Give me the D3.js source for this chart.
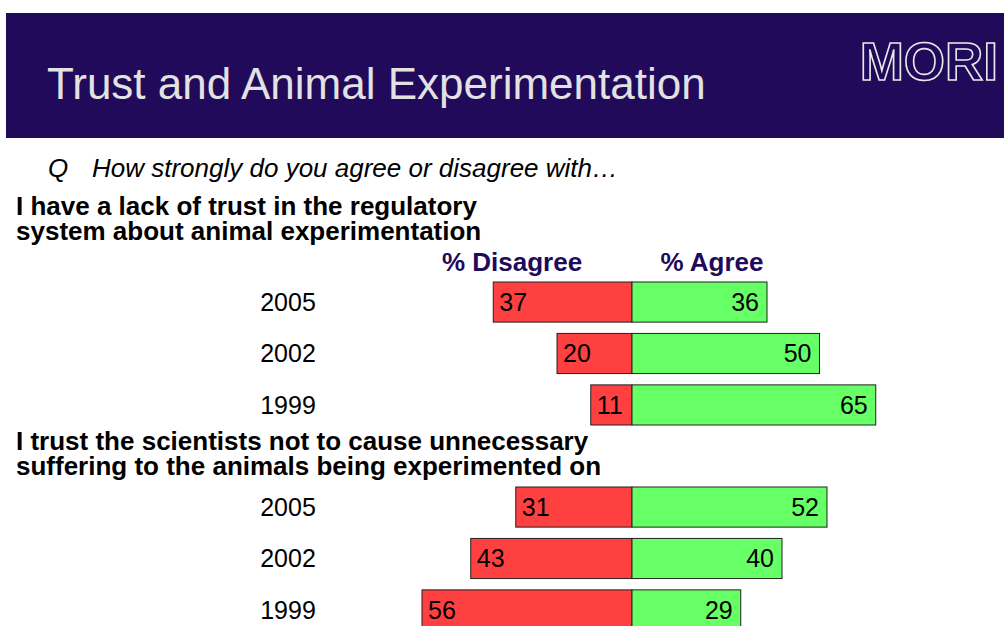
<!DOCTYPE html>
<html>
<head>
<meta charset="utf-8">
<script src="https://cdn.jsdelivr.net/npm/d3@7"></script>
<style>
  body { margin: 0; background: #fff; }
  svg { display: block; font-family: "Liberation Sans", Arial, sans-serif; }
</style>
</head>
<body>
<div id="chart"></div>
<script>
// data
var years = ["2005", "2002", "1999"];
var headings = [
  ["I have a lack of trust in the regulatory", "system about animal experimentation"],
  ["I trust the scientists not to cause unnecessary", "suffering to the animals being experimented on"]
];
var disagreeLack = [37, 20, 11];
var agreeLack = [36, 50, 65];
var disagreeTrust = [31, 43, 56];
var agreeTrust = [52, 40, 29];

var groups = [
  { lines: headings[0], disagree: disagreeLack, agree: agreeLack },
  { lines: headings[1], disagree: disagreeTrust, agree: agreeTrust }
];

var width = 1004, height = 626;
var navy = "#200a59";

var svg = d3.select("#chart").append("svg")
  .attr("width", width)
  .attr("height", height);

// header band
svg.append("rect")
  .attr("x", 6).attr("y", 13)
  .attr("width", width - 6).attr("height", 125)
  .attr("fill", navy);

svg.append("text")
  .attr("x", 47).attr("y", 99)
  .attr("fill", "#e2e2e2")
  .style("font-size", "44px")
  .text("Trust and Animal Experimentation");

// MORI logo, outlined letters
svg.append("text")
  .attr("x", 998).attr("y", 80)
  .attr("text-anchor", "end")
  .attr("fill", navy)
  .attr("stroke", "#e8e8e8")
  .attr("stroke-width", 1.6)
  .style("font-size", "53px")
  .style("font-weight", "bold")
  .text("MORI");

// question
svg.append("text")
  .attr("x", 48).attr("y", 177)
  .style("font-size", "26px").style("font-style", "italic")
  .text("Q");
svg.append("text")
  .attr("x", 92).attr("y", 177)
  .style("font-size", "26px").style("font-style", "italic")
  .text("How strongly do you agree or disagree with\u2026");

// scales
var x = d3.scaleLinear()
  .domain([-60, 70])
  .range([632 - 60 * 3.75, 632 + 70 * 3.75]);

var y = d3.scaleBand()
  .domain(years)
  .range([0, 143])
  .paddingInner(0.22)
  .paddingOuter(0);

// column headers
svg.append("text")
  .attr("x", 512).attr("y", 271)
  .attr("text-anchor", "middle")
  .attr("fill", navy)
  .style("font-size", "26px").style("font-weight", "bold")
  .text("% Disagree");
svg.append("text")
  .attr("x", 712).attr("y", 271)
  .attr("text-anchor", "middle")
  .attr("fill", navy)
  .style("font-size", "26px").style("font-weight", "bold")
  .text("% Agree");

var groupTop = [282, 487];
var headTop = [215, 450];

groups.forEach(function(grp, gi) {
  var g = svg.append("g")
    .attr("transform", "translate(0," + groupTop[gi] + ")");

  svg.append("g").selectAll("text")
    .data(grp.lines)
    .enter().append("text")
    .attr("x", 16)
    .attr("y", function(d, i) { return headTop[gi] + i * 25; })
    .style("font-size", "26px").style("font-weight", "bold")
    .text(function(d) { return d; });

  var rows = years.map(function(yr, i) {
    return { year: yr, dis: grp.disagree[i], agr: grp.agree[i] };
  });

  var row = g.selectAll(".row")
    .data(rows)
    .enter().append("g")
    .attr("class", "row")
    .attr("transform", function(d) { return "translate(0," + y(d.year) + ")"; });

  row.append("rect")
    .attr("x", function(d) { return x(-d.dis); })
    .attr("width", function(d) { return x(0) - x(-d.dis); })
    .attr("height", y.bandwidth())
    .attr("fill", "#ff4040")
    .attr("stroke", "#222").attr("stroke-width", 1);

  row.append("rect")
    .attr("x", x(0))
    .attr("width", function(d) { return x(d.agr) - x(0); })
    .attr("height", y.bandwidth())
    .attr("fill", "#66ff66")
    .attr("stroke", "#222").attr("stroke-width", 1);

  row.append("text")
    .attr("x", function(d) { return x(-d.dis) + 6; })
    .attr("y", y.bandwidth() / 2 + 9)
    .style("font-size", "25px")
    .text(function(d) { return d.dis; });

  row.append("text")
    .attr("x", function(d) { return x(d.agr) - 8; })
    .attr("y", y.bandwidth() / 2 + 9)
    .attr("text-anchor", "end")
    .style("font-size", "25px")
    .text(function(d) { return d.agr; });

  row.append("text")
    .attr("x", 288)
    .attr("y", y.bandwidth() / 2 + 9)
    .attr("text-anchor", "middle")
    .style("font-size", "25px")
    .text(function(d) { return d.year; });
});
</script>
</body>
</html>
